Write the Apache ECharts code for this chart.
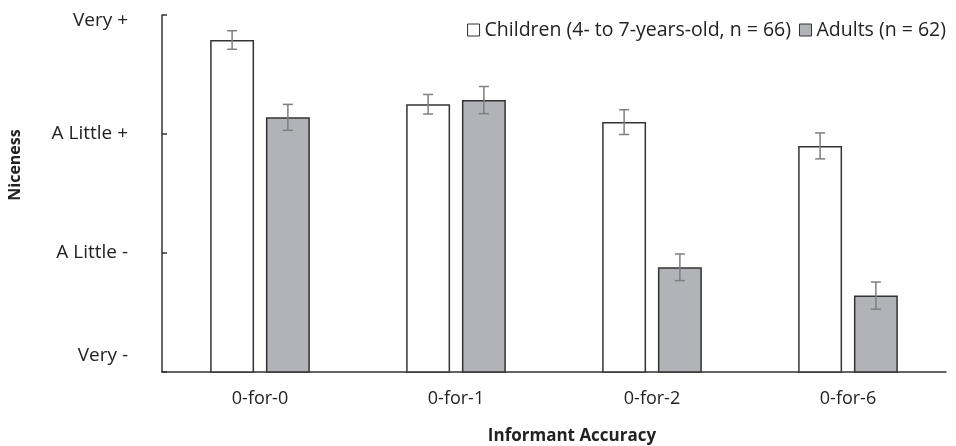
<!DOCTYPE html>
<html><head><meta charset="utf-8">
<script src="https://cdn.jsdelivr.net/npm/echarts@6/dist/echarts.min.js"></script>
<style>html,body{margin:0;padding:0;background:#fff}#c{width:956px;height:446px}</style>
</head><body><div id="c"></div>
<script>
const categories = ['0-for-0', '0-for-1', '0-for-2', '0-for-6'];
const childrenValues = [3.79, 3.25, 3.10, 2.90];
const childrenErrors = [0.078, 0.082, 0.104, 0.109];
const adultValues = [3.14, 3.285, 1.88, 1.642];
const adultErrors = [0.109, 0.114, 0.112, 0.114];
const yTickLabels = {1: 'Very -', 2: 'A Little -', 3: 'A Little +', 4: 'Very +'};
const seriesNames = ['Children (4- to 7-years-old, n = 66)', 'Adults (n = 62)'];

const FONT = 'Open Sans';
const BAR_W = 0.224, BAR_GAP = 0.27;

function errSeries(vals, errs, side) {
  return {
    type: 'custom',
    silent: true,
    z: 10,
    data: vals.map((v, i) => [i, v - errs[i], v + errs[i]]),
    renderItem: function (params, api) {
      const band = api.size([1, 0])[0];
      const bw = band * BAR_W;
      const off = side * bw * (1 + BAR_GAP) / 2;
      const lo = api.coord([api.value(0), api.value(1)]);
      const hi = api.coord([api.value(0), api.value(2)]);
      const x = lo[0] + off;
      const cap = 5;
      const style = {stroke: '#7f7f7f', lineWidth: 1.5, fill: null};
      return {type: 'group', children: [
        {type: 'line', shape: {x1: x, y1: lo[1], x2: x, y2: hi[1]}, style},
        {type: 'line', shape: {x1: x - cap, y1: lo[1], x2: x + cap, y2: lo[1]}, style},
        {type: 'line', shape: {x1: x - cap, y1: hi[1], x2: x + cap, y2: hi[1]}, style}
      ]};
    }
  };
}

const yLabel = {fontFamily: FONT, fontSize: 19, color: '#222'};
const xLabel = {fontFamily: FONT, fontSize: 18, color: '#222'};
const chart = echarts.init(document.getElementById('c'));
chart.setOption({
  animation: false,
  textStyle: {fontFamily: FONT},
  grid: {left: 162, right: 10, top: 15, bottom: 74},
  legend: {
    data: seriesNames,
    right: 5, top: 15,
    icon: 'rect', itemWidth: 12, itemHeight: 12, itemGap: 8,
    itemStyle: {borderWidth: 1},
    textStyle: {fontFamily: FONT, fontSize: 19.5, color: '#222', padding: [0, 0, 0, 0]}
  },
  xAxis: {
    type: 'category',
    data: categories,
    axisLine: {lineStyle: {color: '#333', width: 1.5}},
    axisTick: {show: false},
    axisLabel: Object.assign({margin: 18}, xLabel)
  },
  yAxis: {
    type: 'value',
    min: 1, max: 4, interval: 1,
    splitLine: {show: false},
    axisLine: {show: true, lineStyle: {color: '#333', width: 1.5}},
    axisTick: {show: true, inside: true, length: 5, lineStyle: {color: '#333', width: 1.5}},
    axisLabel: Object.assign({margin: 34,
      formatter: v => v === 1 ? '{lo|' + yTickLabels[v] + '}' : v === 4 ? '{hi|' + yTickLabels[v] + '}' : (yTickLabels[v] || ''),
      rich: {
        lo: Object.assign({padding: [0, 0, 32, 0]}, yLabel),
        hi: Object.assign({padding: [11, 0, 0, 0]}, yLabel)
      }}, yLabel)
  },
  graphic: [
    {type: 'text', x: 15, y: 165, rotation: Math.PI / 2,
      style: {text: 'Niceness', font: 'bold 16px ' + FONT, fill: '#222', textAlign: 'center', textVerticalAlign: 'middle'}},
    {type: 'text', x: 572, y: 436,
      style: {text: 'Informant Accuracy', font: 'bold 17px ' + FONT, fill: '#222', textAlign: 'center', textVerticalAlign: 'middle'}}
  ],
  series: [
    {name: seriesNames[0], type: 'bar', data: childrenValues, barWidth: (BAR_W * 100) + '%', barGap: (BAR_GAP * 100) + '%',
      itemStyle: {color: '#ffffff', borderColor: '#333', borderWidth: 1.5}},
    {name: seriesNames[1], type: 'bar', data: adultValues, barWidth: (BAR_W * 100) + '%',
      itemStyle: {color: '#b2b3b7', borderColor: '#333', borderWidth: 1.5}},
    errSeries(childrenValues, childrenErrors, -1),
    errSeries(adultValues, adultErrors, 1)
  ]
});
</script></body></html>
